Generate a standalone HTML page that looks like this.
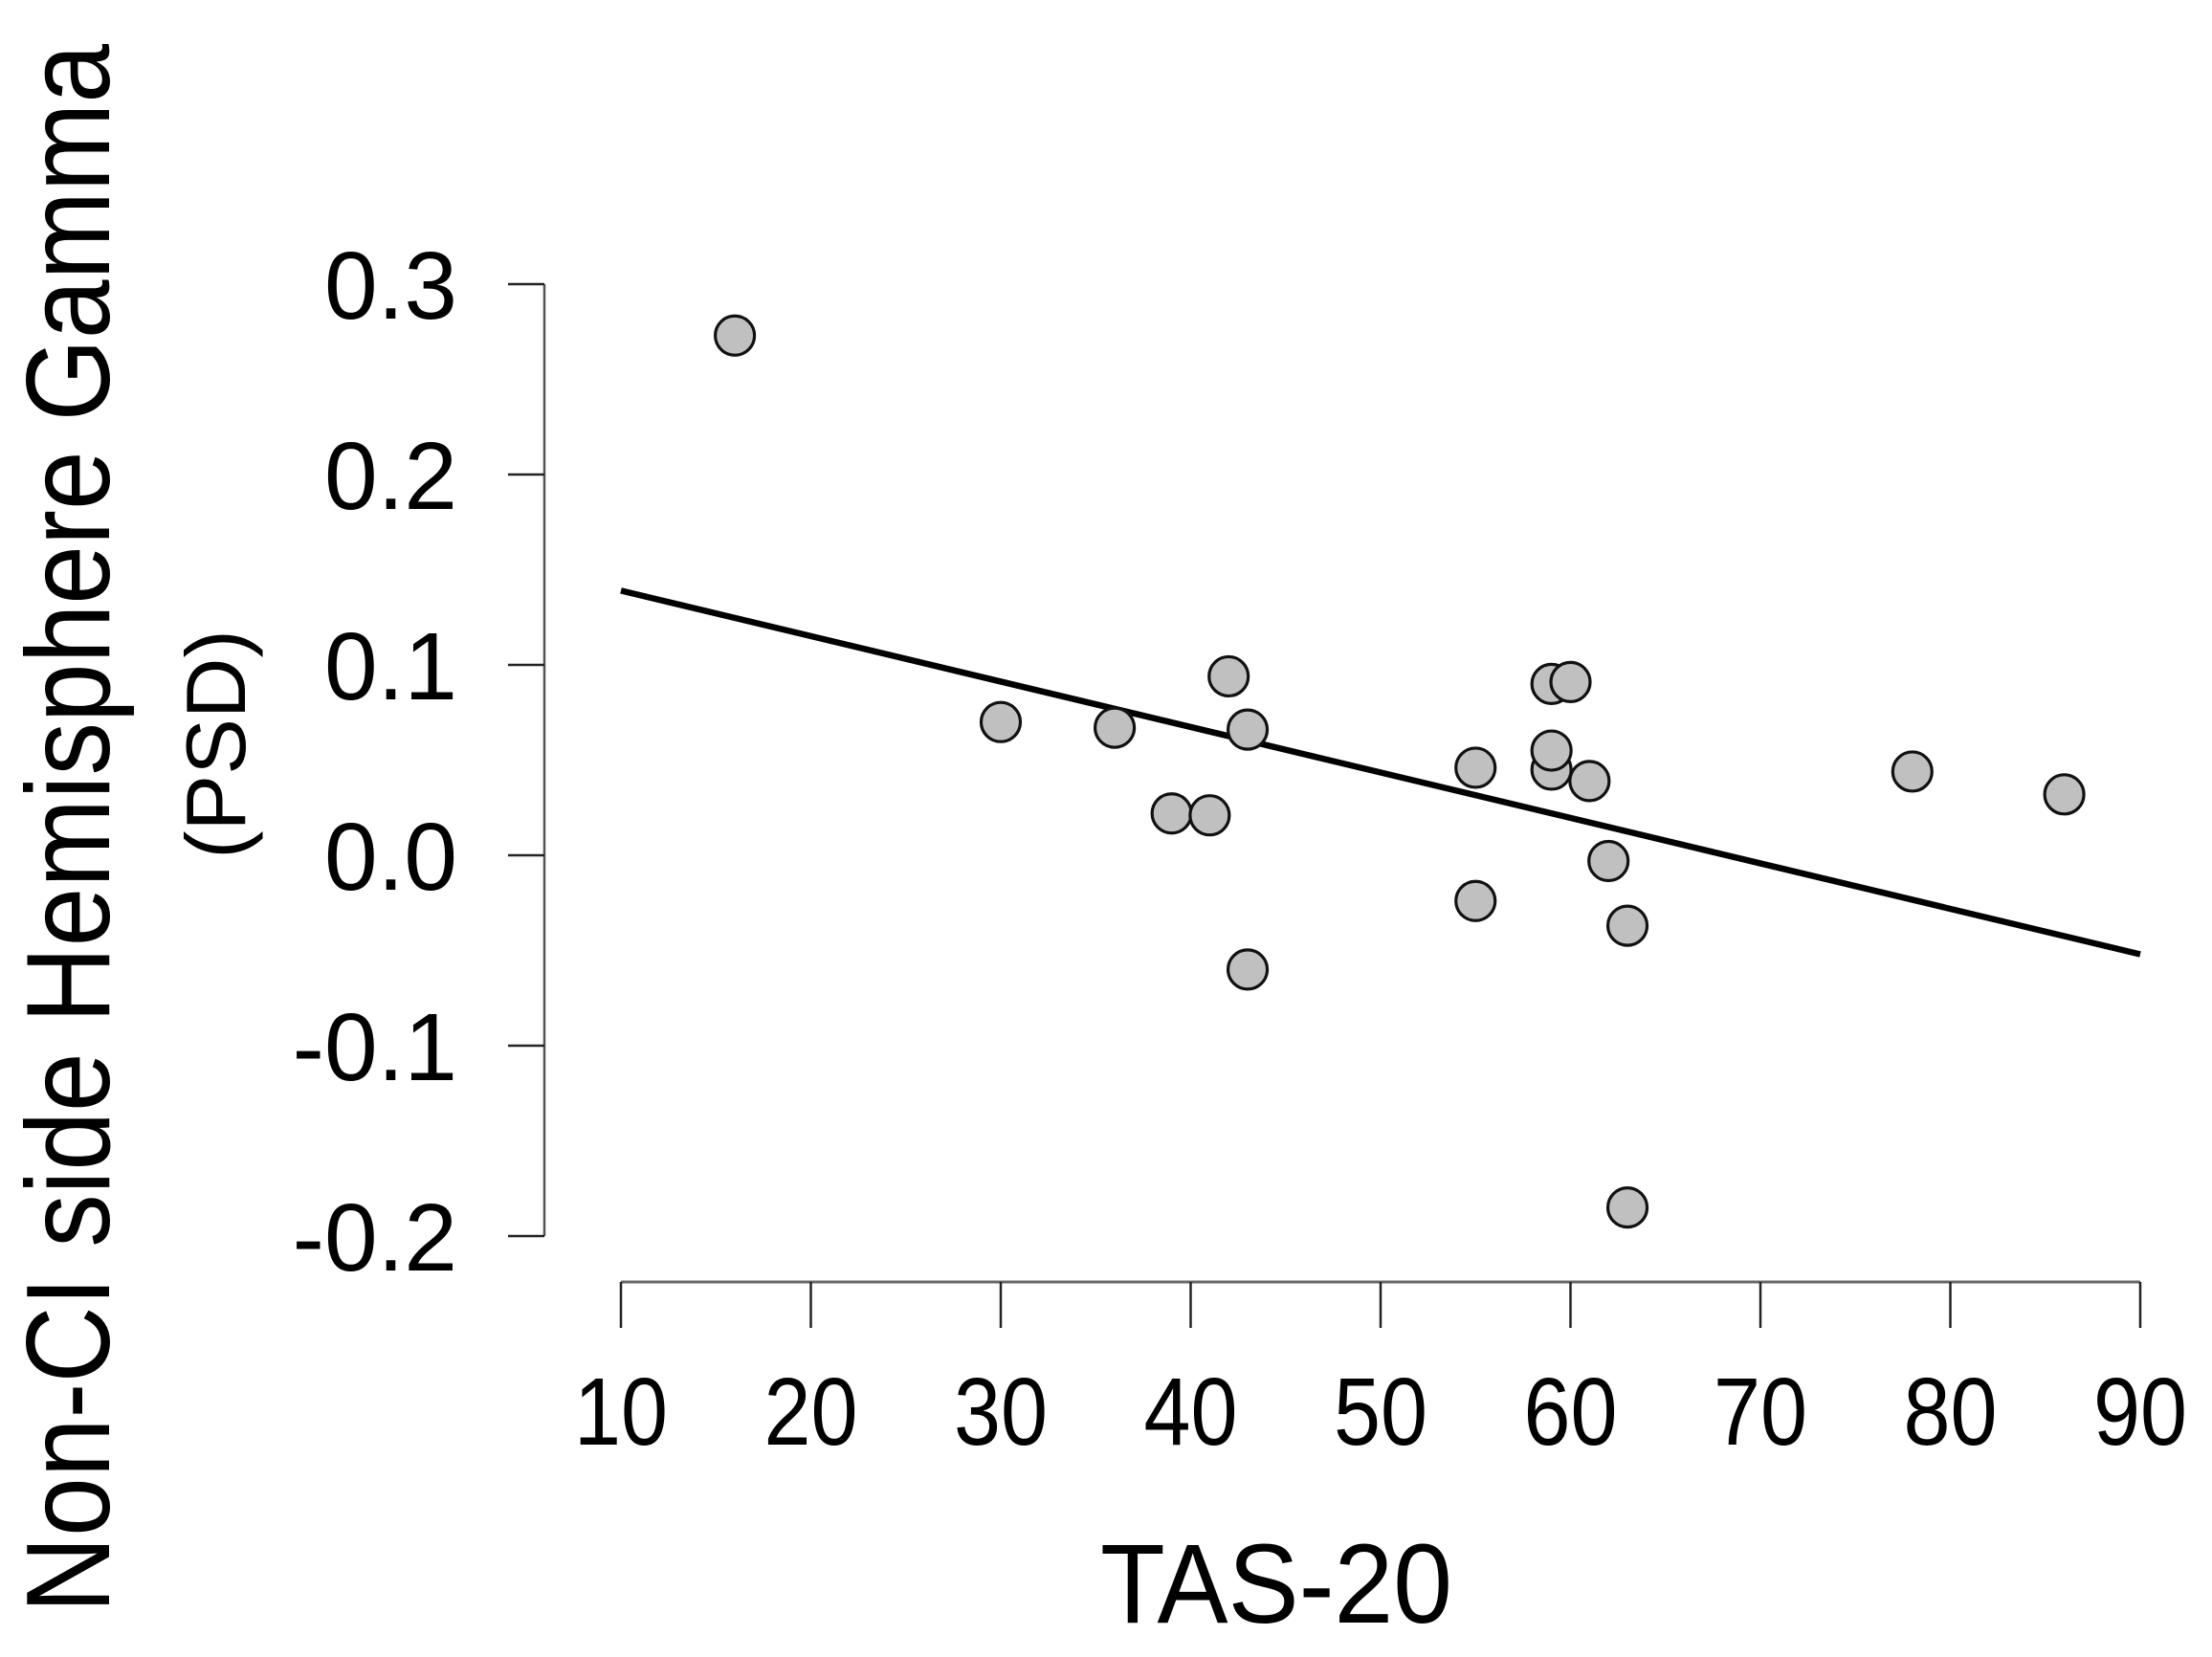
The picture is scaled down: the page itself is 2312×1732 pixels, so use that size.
<!DOCTYPE html>
<html><head><meta charset="utf-8"><style>
html,body{margin:0;padding:0;background:#fff;}
svg{display:block;font-family:"Liberation Sans",Arial,sans-serif;}
</style></head><body>
<svg id="chart" width="2312" height="1732" viewBox="0 0 2312 1732" xmlns="http://www.w3.org/2000/svg">
<g id="axes"></g>
<g id="marks"></g>
<text transform="translate(114,866) rotate(-90)" text-anchor="middle" font-size="124" textLength="1640" lengthAdjust="spacingAndGlyphs">Non-CI side Hemisphere Gamma</text>
<text transform="translate(256,778) rotate(-90)" text-anchor="middle" font-size="88">(PSD)</text>
<text x="1334" y="1696" text-anchor="middle" font-size="118" textLength="368" lengthAdjust="spacingAndGlyphs">TAS-20</text>
</svg>
<script>
const xTicks = [10,20,30,40,50,60,70,80,90];
const yTicks = [0.3,0.2,0.1,0.0,-0.1,-0.2];
const yTickLabels = ["0.3","0.2","0.1","0.0","-0.1","-0.2"];
const tasValues = [16,30,36,39,41,42,43,43,55,55,59,60,59,59,61,62,63,63,78,86];
const gammaValues = [0.273,0.070,0.067,0.022,0.021,0.094,0.066,-0.060,0.046,-0.024,0.090,0.091,0.045,0.055,0.039,-0.003,-0.037,-0.185,0.044,0.032];
const fitX = [10,90];
const fitY = [0.139,-0.052];

const NS="http://www.w3.org/2000/svg";
const X0=649, X1=2237, Y0=297, Y1=1292;
function sx(v){return X0+(v-10)/80*(X1-X0);}
function sy(v){return Y0+(0.3-v)/0.5*(Y1-Y0);}
function mk(tag,attrs,parent){const e=document.createElementNS(NS,tag);for(const k in attrs)e.setAttribute(k,attrs[k]);parent.appendChild(e);return e;}
const axes=document.getElementById('axes'), marks=document.getElementById('marks');

let ya=mk('line',{x1:569,x2:569,y1:sy(0.3),y2:sy(-0.2),stroke:'#555','stroke-width':2.5},axes);


yTicks.forEach((t,i)=>{
  let l=mk('line',{x1:531,x2:569,y1:sy(t),y2:sy(t),stroke:'#222','stroke-width':2.5},axes);
  
  
  let tx=mk('text',{x:478,y:sy(t)+36,'text-anchor':'end','font-size':100},axes);
  tx.textContent=yTickLabels[i];
  
  
});
let xa=mk('line',{x1:sx(10),x2:sx(90),y1:1340,y2:1340,stroke:'#666','stroke-width':3},axes);


xTicks.forEach(t=>{
  let l=mk('line',{x1:sx(t),x2:sx(t),y1:1340,y2:1388,stroke:'#222','stroke-width':2.5},axes);
  
  
  let tx=mk('text',{x:sx(t),y:1510,'text-anchor':'middle','font-size':100,textLength:98,lengthAdjust:'spacingAndGlyphs'},axes);
  tx.textContent=String(t);
  
  
});
let fl=mk('line',{x1:sx(fitX[0]),y1:sy(fitY[0]),x2:sx(fitX[1]),y2:sy(fitY[1]),stroke:'#000','stroke-width':6.5},marks);


tasValues.forEach((v,i)=>{
  let c=mk('circle',{cx:sx(v),cy:sy(gammaValues[i]),r:20.5,fill:'#c0c0c0',stroke:'#111','stroke-width':3.2},marks);
  
  
});
</script>
</body></html>
